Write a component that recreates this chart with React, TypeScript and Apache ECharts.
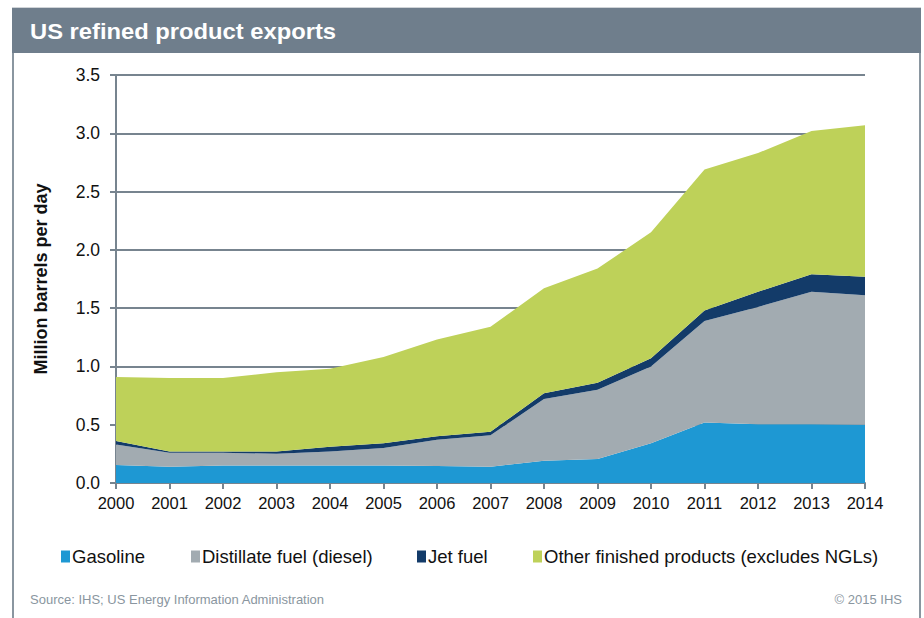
import React, { useEffect, useRef } from "react";
import * as echarts from "echarts";

const years = ["2000","2001","2002","2003","2004","2005","2006","2007","2008","2009","2010","2011","2012","2013","2014"];
const gasoline = [0.155,0.14,0.15,0.15,0.15,0.15,0.145,0.14,0.19,0.205,0.34,0.52,0.505,0.505,0.50];
const distillate = [0.175,0.12,0.11,0.10,0.12,0.15,0.225,0.27,0.53,0.595,0.66,0.87,1.005,1.135,1.11];
const jetFuel = [0.03,0.01,0.01,0.02,0.04,0.04,0.03,0.03,0.05,0.06,0.07,0.09,0.13,0.15,0.16];
const otherProducts = [0.55,0.63,0.63,0.68,0.67,0.74,0.83,0.90,0.90,0.98,1.08,1.21,1.19,1.23,1.30];

const seriesNames = ["Gasoline","Distillate fuel (diesel)","Jet fuel","Other finished products (excludes NGLs)"];
const colors = ["#1e98d3","#a2abb1","#133b69","#bed159"];
const FONT = "Liberation Sans, Arial, sans-serif";
const AXIS = "#77848f";

export default function App() {
  const ref = useRef<HTMLDivElement>(null);
  useEffect(() => {
    const chart = echarts.init(ref.current!, null, { renderer: "svg" });
    const data = [gasoline, distillate, jetFuel, otherProducts];
    const legendLefts = [61, 191, 417, 533];
    chart.setOption({
      animation: false,
      textStyle: { fontFamily: FONT },
      grid: { left: 116, right: 59, top: 75, bottom: 135 },
      legend: seriesNames.map((n, i) => ({
        data: [n],
        left: legendLefts[i],
        top: 547,
        icon: "rect",
        itemWidth: 9,
        itemHeight: 12,
        itemGap: 0,
        padding: 0,
        selectedMode: false,
        textStyle: { fontFamily: FONT, fontSize: 18.5, color: "#111", padding: [0, 0, 0, -3] },
      })),
      xAxis: {
        type: "category",
        data: years,
        boundaryGap: false,
        axisLine: { lineStyle: { color: AXIS, width: 2 } },
        axisTick: { show: true, length: 6, lineStyle: { color: AXIS, width: 2 } },
        axisLabel: { color: "#111", fontSize: 16.5, fontFamily: FONT, margin: 11, interval: 0 },
      },
      yAxis: {
        type: "value",
        min: 0,
        max: 3.5,
        interval: 0.5,
        name: "Million barrels per day",
        nameLocation: "middle",
        nameGap: 66,
        nameTextStyle: { fontSize: 18, fontWeight: "bold", color: "#111", fontFamily: FONT },
        axisLine: { show: true, lineStyle: { color: AXIS, width: 2 } },
        axisTick: { show: true, length: 6, lineStyle: { color: AXIS, width: 2 } },
        axisLabel: { color: "#111", fontSize: 17.5, fontFamily: FONT, margin: 16, formatter: (v: number) => v.toFixed(1) },
        splitLine: { show: true, lineStyle: { color: AXIS, width: 2 } },
      },
      series: data.map((d, i) => ({
        name: seriesNames[i],
        type: "line",
        stack: "total",
        data: d,
        symbol: "none",
        color: colors[i],
        lineStyle: { width: 0 },
        areaStyle: { color: colors[i], opacity: 1 },
        z: 3,
      })),
      graphic: [
        { type: "rect", shape: { x: 12, y: 7, width: 909, height: 1 }, style: { fill: "#d0d4d8" }, silent: true },
        { type: "rect", shape: { x: 12, y: 8, width: 909, height: 45 }, style: { fill: "#6f7e8c" }, silent: true },
        { type: "text", x: 30, y: 31, scaleX: 1.08, style: { text: "US refined product exports", fill: "#ffffff", font: `bold 22px ${FONT}`, textVerticalAlign: "middle" }, silent: true },
        { type: "rect", shape: { x: 12, y: 53, width: 2, height: 565 }, style: { fill: "#8a96a0" }, silent: true },
        { type: "rect", shape: { x: 919, y: 53, width: 2, height: 565 }, style: { fill: "#8a96a0" }, silent: true },
        { type: "text", x: 30, y: 599, style: { text: "Source: IHS; US Energy Information Administration", fill: "#8a96a0", font: `13px ${FONT}`, textVerticalAlign: "middle" }, silent: true },
        { type: "text", x: 902, y: 599, style: { text: "© 2015 IHS", fill: "#8a96a0", font: `13px ${FONT}`, textAlign: "right", textVerticalAlign: "middle" }, silent: true },
      ],
    });
    return () => chart.dispose();
  }, []);
  return <div ref={ref} style={{ width: 924, height: 618, position: "absolute", left: 0, top: 0 }} />;
}
